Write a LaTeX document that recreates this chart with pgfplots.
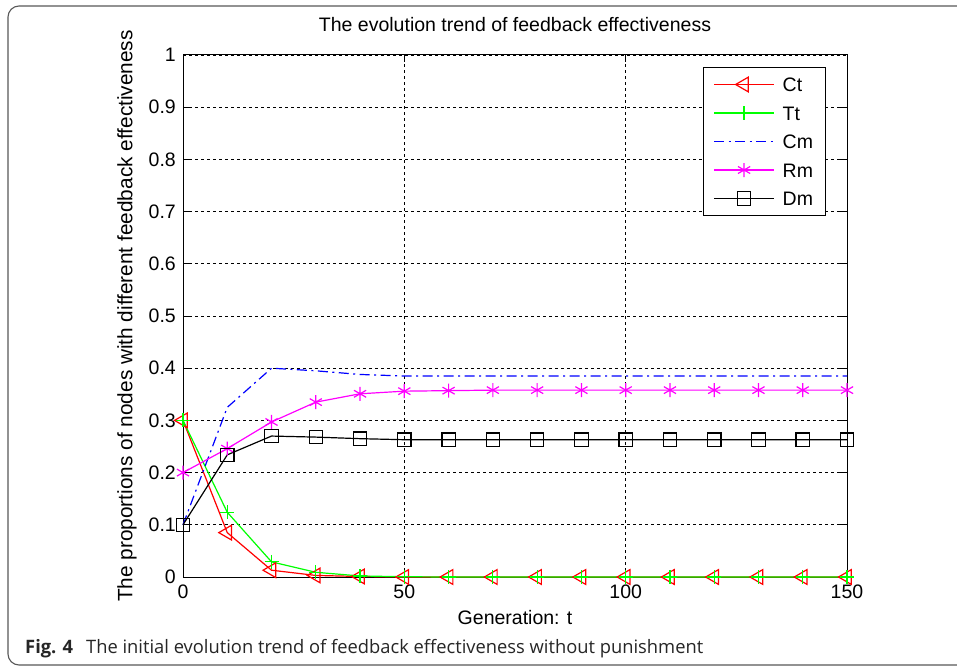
\documentclass[border=0pt]{standalone}
\usepackage{fontspec}
\setmainfont{Liberation Sans}
\newfontfamily\capfont{Open Sans}
\usepackage{graphicx}
\usepackage{pgfplots}
\pgfplotsset{compat=1.18}

\definecolor{mred}{RGB}{255,0,0}
\definecolor{mgreen}{RGB}{0,255,0}
\definecolor{mblue}{RGB}{0,0,255}
\definecolor{mmagenta}{RGB}{255,0,255}

\newcommand{\axfont}{\fontsize{19.5}{23}\selectfont}
\newcommand{\ylfont}{\fontsize{20.8}{24}\selectfont}

\begin{document}
\begin{tikzpicture}
\useasboundingbox (0,0) rectangle (957pt,667pt);
\clip (0,0) rectangle (957pt,667pt);
\fill[white] (0,0) rectangle (957pt,667pt);
% figure frame
\draw[black!65, line width=1.1pt, rounded corners=11pt]
  (980pt,661pt) -- (8pt,661pt) -- (8pt,2pt) -- (980pt,2pt);

\begin{axis}[
  at={(183pt,90pt)}, anchor=south west,
  scale only axis, width=664pt, height=522pt,
  xmin=0, xmax=150, ymin=0, ymax=1,
  xtick={0,50,100,150},
  ytick={0,0.1,0.2,0.3,0.4,0.5,0.6,0.7,0.8,0.9,1},
  yticklabels={0,0.1,0.2,0.3,0.4,0.5,0.6,0.7,0.8,0.9,1},
  /pgf/number format/assume math mode=true,
  axis line style={black, line width=1pt},
  tick align=inside, major tick length=7pt,
  tick style={black, line width=1pt},
  grid=major,
  major grid style={black, line width=0.9pt, dash pattern=on 2.6pt off 3.4pt},
  tick label style={font=\axfont, inner sep=0pt},
  xticklabel style={anchor=north, yshift=-8pt},
  yticklabel style={anchor=east, xshift=-7pt},
  title={The evolution trend of feedback effectiveness},
  title style={font=\axfont, at={(axis description cs:0.5,1.046)}, anchor=center, inner sep=0pt},
  xlabel={Generation: t},
  xlabel style={font=\axfont, at={(axis description cs:0.5,-0.0785)}, anchor=center, inner sep=0pt},
  ylabel={The proportions of nodes with different feedback effectiveness},
  ylabel style={font=\ylfont, at={(axis description cs:-0.0843,0.5)}, anchor=center, inner sep=0pt},
  clip=false,
  legend image code/.code={\draw[mark repeat=2,mark phase=2,#1] plot coordinates {(0pt,0pt)(30pt,0pt)(60pt,0pt)};},
  legend style={font=\axfont, at={(axis description cs:0.7831,0.977)}, anchor=north west,
    draw=black, line width=1pt, fill=white, inner xsep=10pt, inner ysep=8pt,
    row sep=10.5pt,
    nodes={inner sep=2pt, text height=14pt, text depth=0pt},
    /tikz/every odd column/.append style={column sep=6pt}},
  legend cell align=left,
]
% Ct
\addplot[mred, line width=1.2pt, mark=triangle, mark size=8.5pt,
  mark options={rotate=90, solid, line width=1.2pt}] coordinates {
  (0,0.300) (10,0.085) (20,0.013) (30,0.003) (40,0.001) (50,0) (60,0) (70,0)
  (80,0) (90,0) (100,0) (110,0) (120,0) (130,0) (140,0) (150,0)};
\addlegendentry{Ct}
% Tt
\addplot[mgreen, line width=1.2pt, mark=+, mark size=7pt,
  mark options={solid, line width=1.2pt}] coordinates {
  (0,0.300) (10,0.124) (20,0.029) (30,0.009) (40,0.002) (50,0.0005) (60,0) (70,0)
  (80,0) (90,0) (100,0) (110,0) (120,0) (130,0) (140,0) (150,0)};
\addlegendentry{Tt}
% Cm
\addplot[mblue, line width=1.2pt, dash pattern=on 10pt off 4.5pt on 2pt off 4.5pt] coordinates {
  (0,0.100) (10,0.325) (20,0.400) (30,0.395) (40,0.388) (50,0.385) (60,0.385) (70,0.385)
  (80,0.385) (90,0.385) (100,0.385) (110,0.385) (120,0.385) (130,0.385) (140,0.385) (150,0.385)};
\addlegendentry{Cm}
% Rm
\addplot[mmagenta, line width=1.2pt, mark=asterisk, mark size=7pt,
  mark options={solid, line width=1.2pt}] coordinates {
  (0,0.200) (10,0.246) (20,0.297) (30,0.335) (40,0.351) (50,0.356) (60,0.357) (70,0.358)
  (80,0.358) (90,0.358) (100,0.358) (110,0.358) (120,0.358) (130,0.358) (140,0.358) (150,0.358)};
\addlegendentry{Rm}
% Dm
\addplot[black, line width=1.2pt, mark=square, mark size=6.7pt,
  mark options={solid, line width=1.2pt}] coordinates {
  (0,0.100) (10,0.234) (20,0.270) (30,0.268) (40,0.265) (50,0.263) (60,0.263) (70,0.263)
  (80,0.263) (90,0.263) (100,0.263) (110,0.263) (120,0.263) (130,0.263) (140,0.263) (150,0.263)};
\addlegendentry{Dm}
\end{axis}

% caption
\node[anchor=base west, inner sep=0pt, text=black!85] at (25pt,14pt)
  {\resizebox{48pt}{\height}{\capfont\fontsize{18.5}{22}\selectfont\bfseries Fig. 4}};
\node[anchor=base west, inner sep=0pt, text=black!85] at (86pt,14pt)
  {\resizebox{617pt}{\height}{\capfont\fontsize{18.5}{22}\selectfont The initial evolution trend of feedback effectiveness without punishment}};
\end{tikzpicture}
\end{document}
